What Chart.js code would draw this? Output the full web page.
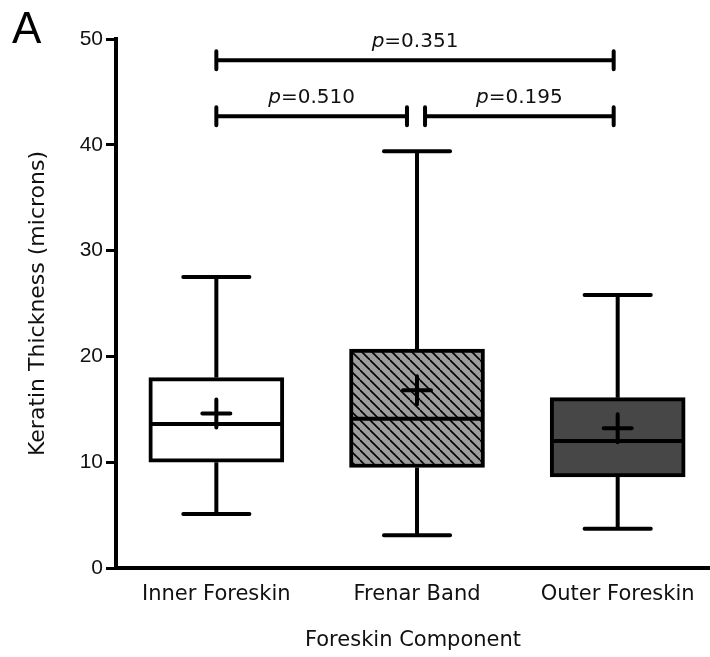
<!DOCTYPE html>
<html>
<head>
<meta charset="utf-8">
<script src="https://cdn.jsdelivr.net/npm/chart.js@4/dist/chart.umd.min.js"></script>
<style>
  html, body { margin: 0; padding: 0; background: #fff; }
  #wrap { width: 710px; height: 657px; position: relative; }
</style>
</head>
<body>
<div id="wrap"><canvas id="chart"></canvas></div>
<script>
// box plot values (microns)
const categories = ["Inner Foreskin", "Frenar Band", "Outer Foreskin"];
const whiskerMin = [5.1, 3.1, 3.7];
const q1 = [10.0, 9.5, 8.6];
const median = [13.6, 14.1, 12.0];
const q3 = [18.0, 20.7, 16.1];
const whiskerMax = [27.5, 39.4, 25.8];
const means = [14.6, 16.8, 13.2];

// significance brackets
const bracketLabels = ["0.351", "0.510", "0.195"];
const bracketFrom = [0, 0, 1.04];
const bracketTo = [1.98, 0.95, 1.98];
const bracketLevel = [48.0, 42.7, 42.7];

const yTicks = [0, 10, 20, 30, 40, 50];

const FONT = "'Liberation Sans', Arial, Helvetica, sans-serif";
const WIDE = "'DejaVu Sans', Verdana, sans-serif";
const LW = 4;

function hatchPattern() {
  const s = 10;
  const c = document.createElement("canvas");
  c.width = s;
  c.height = s;
  const g = c.getContext("2d");
  g.fillStyle = "#9d9d9d";
  g.fillRect(0, 0, s, s);
  g.strokeStyle = "#000";
  g.lineWidth = 1.6;
  [-s, 0, s].forEach(off => {
    g.beginPath();
    g.moveTo(off, 0);
    g.lineTo(off + s, s);
    g.stroke();
  });
  return g.createPattern(c, "repeat");
}

// whiskers, medians, means, brackets and the panel letter
const boxExtras = {
  id: "boxExtras",
  afterDatasetsDraw(chart) {
    const { ctx, scales: { x, y } } = chart;
    ctx.save();
    ctx.strokeStyle = "#000";
    ctx.lineWidth = LW;
    ctx.lineCap = "butt";

    const meta = chart.getDatasetMeta(0);
    categories.forEach((c, i) => {
      const cx = x.getPixelForValue(i);
      const bar = meta.data[i];
      const half = bar.width / 2;
      const cap = bar.width * 0.245;

      // whiskers
      ctx.beginPath();
      ctx.moveTo(cx, y.getPixelForValue(q3[i]));
      ctx.lineTo(cx, y.getPixelForValue(whiskerMax[i]));
      ctx.moveTo(cx, y.getPixelForValue(q1[i]));
      ctx.lineTo(cx, y.getPixelForValue(whiskerMin[i]));
      ctx.stroke();
      ctx.lineCap = "round";
      ctx.beginPath();
      ctx.moveTo(cx - cap, y.getPixelForValue(whiskerMax[i]));
      ctx.lineTo(cx + cap, y.getPixelForValue(whiskerMax[i]));
      ctx.moveTo(cx - cap, y.getPixelForValue(whiskerMin[i]));
      ctx.lineTo(cx + cap, y.getPixelForValue(whiskerMin[i]));
      ctx.stroke();
      ctx.lineCap = "butt";

      // median
      ctx.beginPath();
      ctx.moveTo(cx - half + 1, y.getPixelForValue(median[i]));
      ctx.lineTo(cx + half - 1, y.getPixelForValue(median[i]));
      ctx.stroke();

      // mean "+"
      const my = y.getPixelForValue(means[i]);
      ctx.lineCap = "round";
      ctx.beginPath();
      ctx.moveTo(cx - 14, my);
      ctx.lineTo(cx + 14, my);
      ctx.moveTo(cx, my - 14);
      ctx.lineTo(cx, my + 14);
      ctx.stroke();
      ctx.lineCap = "butt";
    });

    // p value brackets
    ctx.lineCap = "round";
    bracketLabels.forEach((lab, i) => {
      const x0 = x.getPixelForValue(bracketFrom[i]);
      const x1 = x.getPixelForValue(bracketTo[i]);
      const py = y.getPixelForValue(bracketLevel[i]);
      ctx.beginPath();
      ctx.moveTo(x0, py);
      ctx.lineTo(x1, py);
      ctx.moveTo(x0, py - 9);
      ctx.lineTo(x0, py + 9);
      ctx.moveTo(x1, py - 9);
      ctx.lineTo(x1, py + 9);
      ctx.stroke();

      const italic = "italic 20px " + WIDE;
      const normal = "20px " + WIDE;
      ctx.font = italic;
      const wp = ctx.measureText("p").width;
      ctx.font = normal;
      const wr = ctx.measureText("=" + lab).width;
      const tx = (x0 + x1) / 2 - (wp + wr) / 2;
      ctx.fillStyle = "#111";
      ctx.textAlign = "left";
      ctx.textBaseline = "alphabetic";
      ctx.font = italic;
      ctx.fillText("p", tx, py - 13);
      ctx.font = normal;
      ctx.fillText("=" + lab, tx + wp, py - 13);
    });

    // panel letter
    ctx.fillStyle = "#000";
    ctx.font = "44px " + FONT;
    ctx.textAlign = "left";
    ctx.textBaseline = "alphabetic";
    ctx.fillText("A", 12, 43);
    ctx.restore();
  }
};

const ctx = document.getElementById("chart").getContext("2d");

new Chart(ctx, {
  type: "bar",
  data: {
    datasets: [
      {
        label: "Keratin Thickness",
        data: categories.map((c, i) => ({ x: i, y: [q1[i], q3[i]] })),
        backgroundColor: ["#ffffff", hatchPattern(), "#474747"],
        borderColor: "#000",
        borderWidth: LW,
        borderSkipped: false,
        barThickness: 135
      }
    ]
  },
  options: {
    responsive: true,
    maintainAspectRatio: false,
    animation: false,
    layout: { padding: { top: 39, left: 0, right: 0, bottom: 0 } },
    plugins: {
      legend: { display: false },
      tooltip: { enabled: false }
    },
    scales: {
      x: {
        type: "linear",
        offset: false,
        min: -0.5,
        max: 2.46,
        afterBuildTicks: scale => {
          scale.ticks = categories.map((c, i) => ({ value: i }));
        },
        afterFit: scale => {
          scale.height = 89;
        },
        ticks: {
          callback: v => categories[v],
          color: "#111",
          font: { family: WIDE, size: 21 },
          padding: 6,
          maxRotation: 0,
          autoSkip: false
        },
        grid: { display: false, offset: false },
        border: { display: true, color: "#000", width: LW },
        title: {
          display: true,
          text: "Foreskin Component",
          color: "#111",
          font: { family: WIDE, size: 21 },
          padding: { top: 0, bottom: 4 }
        }
      },
      y: {
        min: 0,
        max: 50,
        afterBuildTicks: scale => {
          scale.ticks = yTicks.map(v => ({ value: v }));
        },
        afterFit: scale => {
          scale.width = 116;
        },
        ticks: {
          color: "#111",
          font: { family: FONT, size: 21 },
          padding: 3
        },
        grid: {
          drawOnChartArea: false,
          drawTicks: true,
          tickLength: 10,
          tickWidth: 3,
          color: "#000"
        },
        border: { display: true, color: "#000", width: LW },
        title: {
          display: true,
          text: "Keratin Thickness (microns)",
          color: "#111",
          font: { family: WIDE, size: 22 },
          padding: { top: 25, bottom: 0 }
        }
      }
    }
  },
  plugins: [boxExtras]
});
</script>
</body>
</html>
